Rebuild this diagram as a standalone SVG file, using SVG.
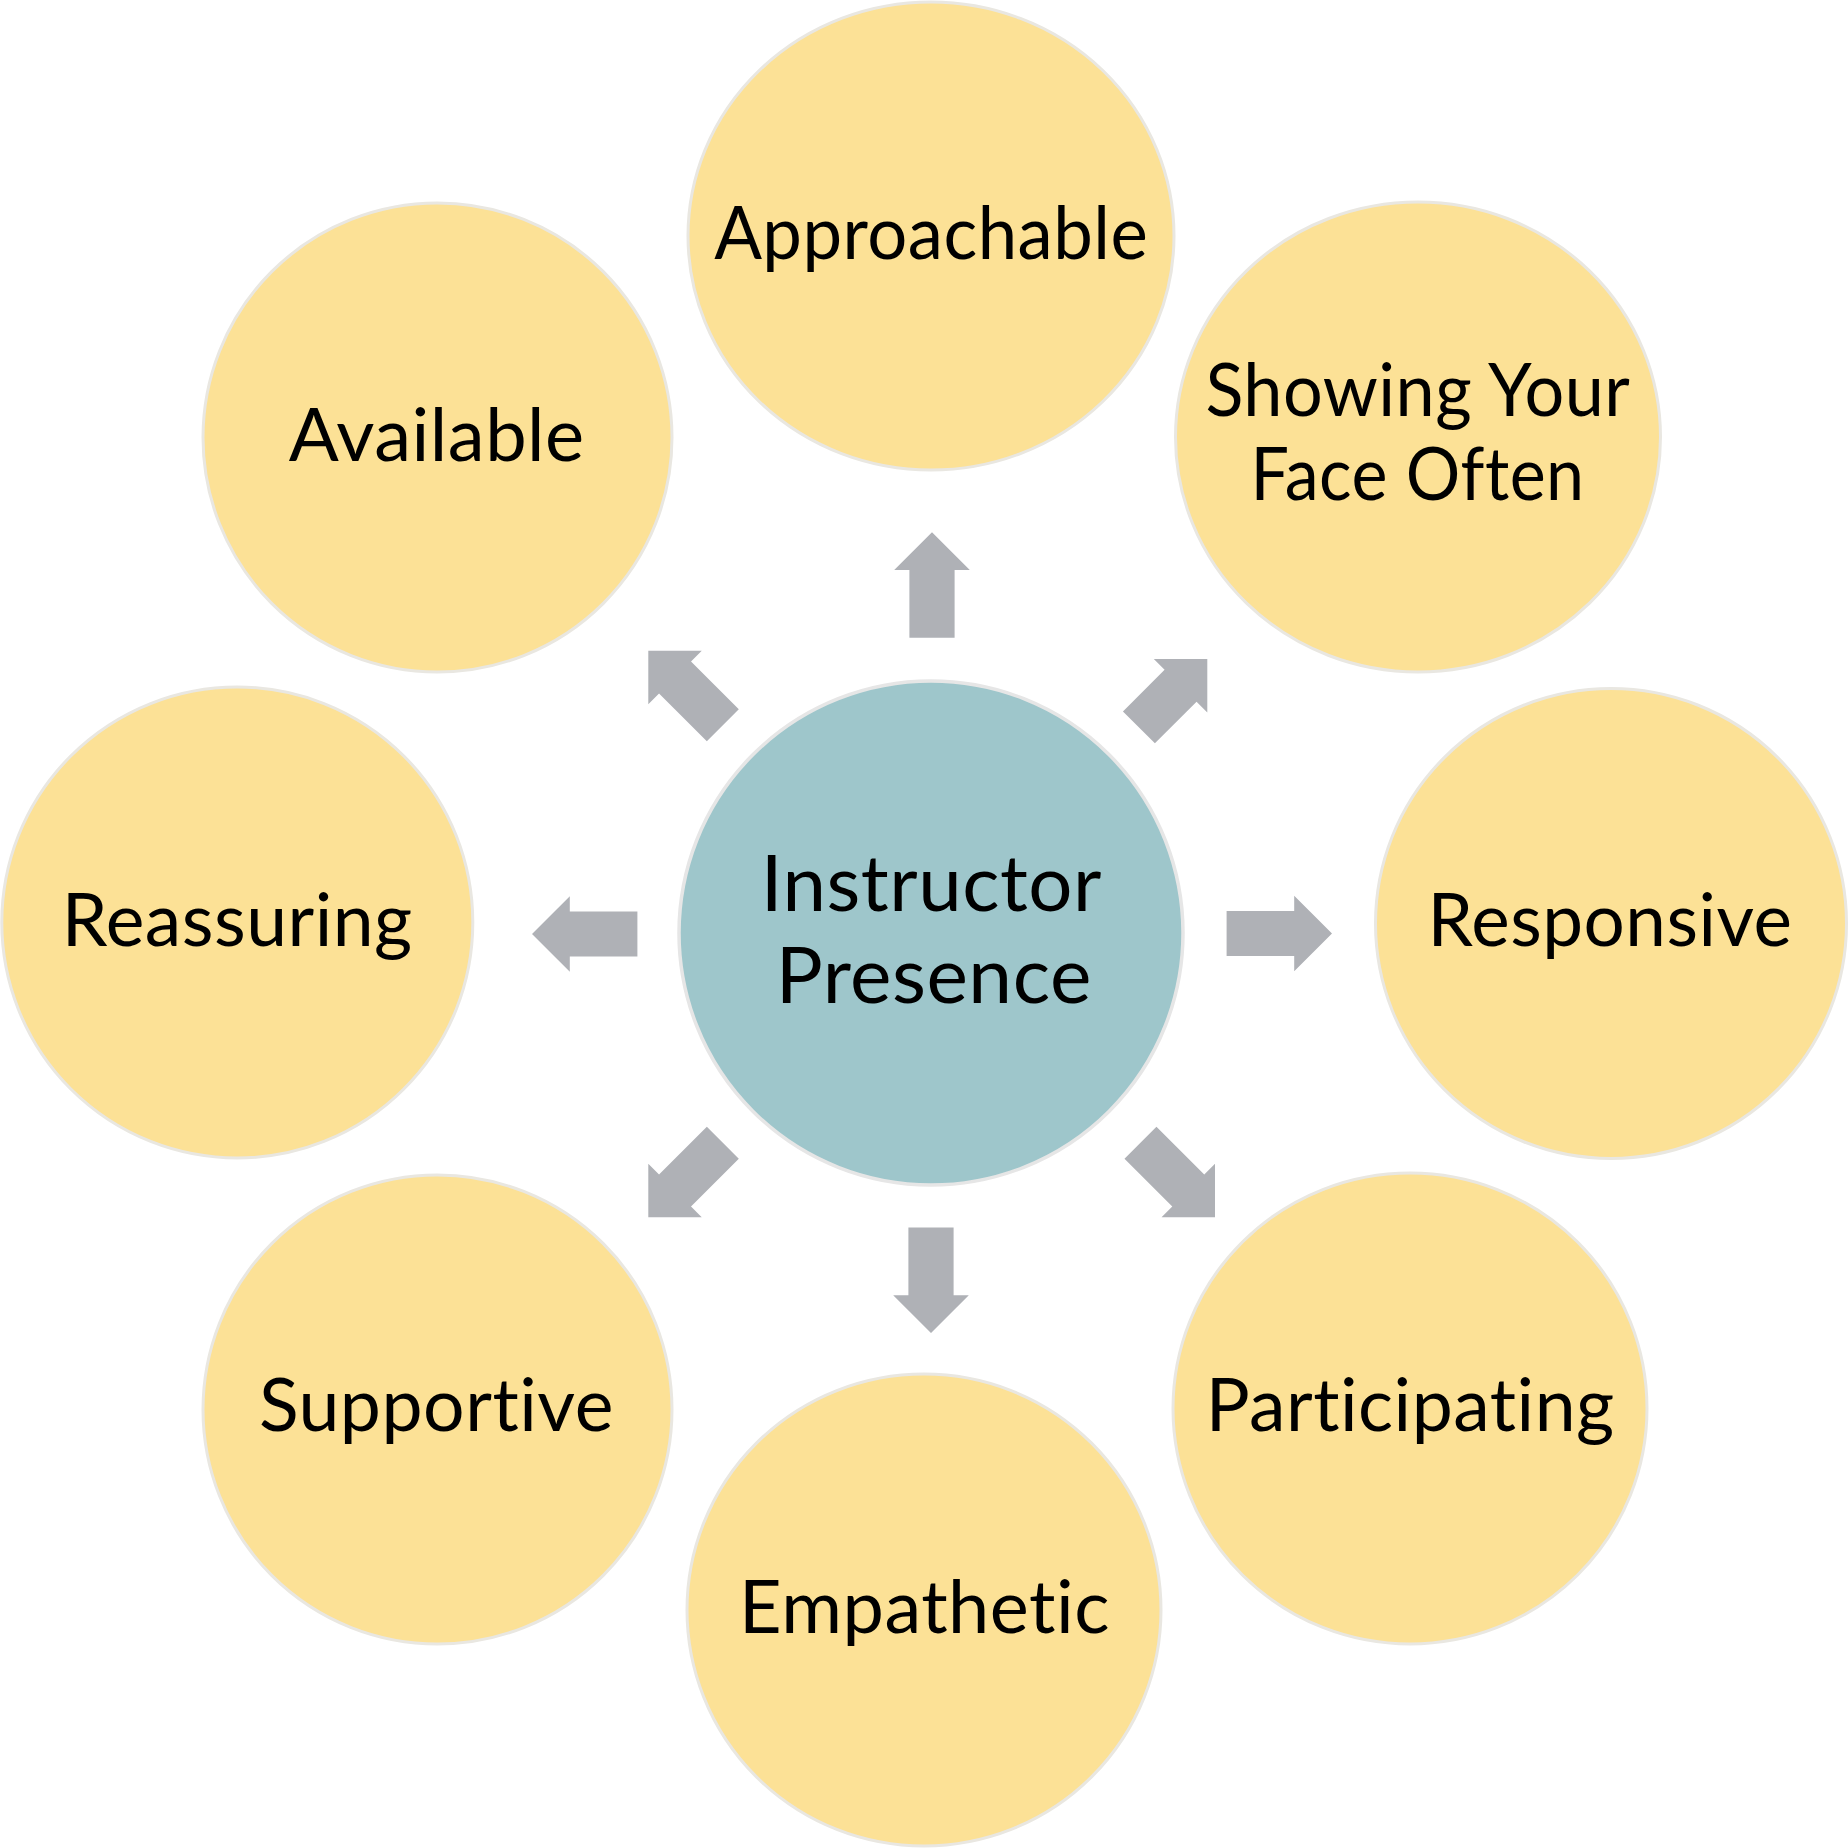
<svg xmlns="http://www.w3.org/2000/svg" xmlns:xlink="http://www.w3.org/1999/xlink" width="1848" height="1848" viewBox="0 0 1848 1848">
<style>
.outer{fill:#FCE196;stroke:#E9E7E1;stroke-width:3}
.hub{fill:#9EC6CB;stroke:#E6E6E6;stroke-width:3.5}
.lbl{font-family:Lato,"Open Sans","DejaVu Sans",sans-serif;font-size:74px;fill:#000;text-anchor:middle;letter-spacing:0.5px;font-variant-ligatures:none;font-feature-settings:"liga" 0,"clig" 0,"dlig" 0}
.hubl{font-size:77px}
.arr{fill:#AFB1B6}
</style>
<defs>
<path id="arrow" d="M0,0 L37.8,37.8 L22.6,37.8 L22.6,105.4 L-22.6,105.4 L-22.6,37.8 L-37.8,37.8 Z"/>
<path id="arrowShort" d="M0,0 L37.8,37.8 L22.6,37.8 L22.6,96.7 L-22.6,96.7 L-22.6,37.8 L-37.8,37.8 Z"/>
</defs>
<rect width="1848" height="1848" fill="#FFFFFF"/>
<g id="connectors" class="arr">
<use xlink:href="#arrow" href="#arrow" transform="translate(932,532.3)"/>
<use xlink:href="#arrowShort" href="#arrowShort" transform="translate(1207.3,659) rotate(45)"/>
<use xlink:href="#arrow" href="#arrow" transform="translate(1332,933.5) rotate(90)"/>
<use xlink:href="#arrow" href="#arrow" transform="translate(1215,1217.3) rotate(135)"/>
<use xlink:href="#arrow" href="#arrow" transform="translate(931,1333) rotate(180)"/>
<use xlink:href="#arrow" href="#arrow" transform="translate(648.3,1217.3) rotate(225)"/>
<use xlink:href="#arrow" href="#arrow" transform="translate(532,934) rotate(270)"/>
<use xlink:href="#arrow" href="#arrow" transform="translate(648.3,650.7) rotate(315)"/>
</g>
<g id="node-instructor-presence">
<circle class="hub" cx="931" cy="933" r="252"/>
<text class="lbl hubl" x="931.3" y="911" textLength="341" lengthAdjust="spacingAndGlyphs">Instructor</text>
<text class="lbl hubl" x="933.8" y="1003.3" textLength="316" lengthAdjust="spacingAndGlyphs">Presence</text>
</g>
<g id="node-approachable">
<ellipse class="outer" cx="931" cy="236" rx="243" ry="234"/>
<text class="lbl" x="931.2" y="259" textLength="434" lengthAdjust="spacingAndGlyphs">Approachable</text>
</g>
<g id="node-showing-your-face-often">
<ellipse class="outer" cx="1418" cy="437" rx="242.5" ry="235"/>
<text class="lbl" x="1417.9" y="415.5" textLength="425" lengthAdjust="spacingAndGlyphs">Showing Your</text>
<text class="lbl" x="1417.6" y="499.7" textLength="334" lengthAdjust="spacingAndGlyphs">Face Often</text>
</g>
<g id="node-responsive">
<ellipse class="outer" cx="1611" cy="923.5" rx="235.5" ry="235"/>
<text class="lbl" x="1610" y="946.4" textLength="365" lengthAdjust="spacingAndGlyphs">Responsive</text>
</g>
<g id="node-participating">
<ellipse class="outer" cx="1410" cy="1408.5" rx="237" ry="235.5"/>
<text class="lbl" x="1410.2" y="1430.8" textLength="409" lengthAdjust="spacingAndGlyphs">Participating</text>
</g>
<g id="node-empathetic">
<ellipse class="outer" cx="924" cy="1610" rx="237" ry="236"/>
<text class="lbl" x="924.6" y="1633" textLength="371" lengthAdjust="spacingAndGlyphs">Empathetic</text>
</g>
<g id="node-supportive">
<circle class="outer" cx="437.5" cy="1409.5" r="234.5"/>
<text class="lbl" x="436.4" y="1430.8" textLength="355" lengthAdjust="spacingAndGlyphs">Supportive</text>
</g>
<g id="node-reassuring">
<circle class="outer" cx="237.3" cy="922.5" r="235.5"/>
<text class="lbl" x="237.2" y="946.4" textLength="351" lengthAdjust="spacingAndGlyphs">Reassuring</text>
</g>
<g id="node-available">
<circle class="outer" cx="437.5" cy="437.5" r="234.5"/>
<text class="lbl" x="436.7" y="460.8" textLength="296" lengthAdjust="spacingAndGlyphs">Available</text>
</g>
</svg>
